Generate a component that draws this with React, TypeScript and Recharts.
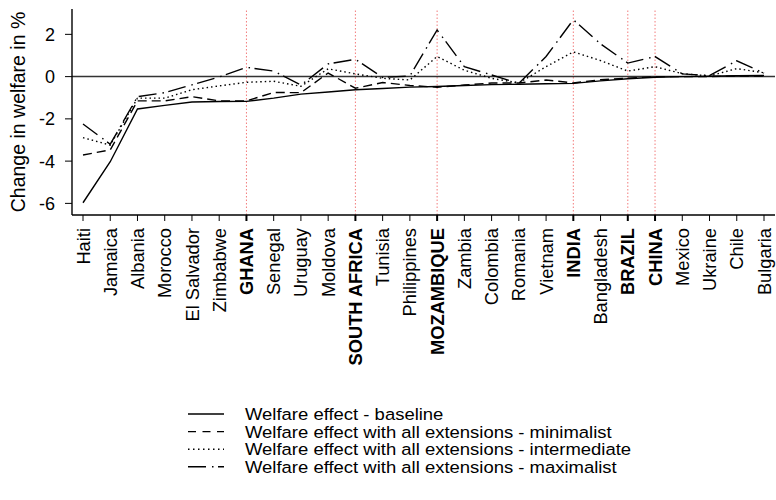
import React from 'react';
import { LineChart, Line, XAxis, YAxis, ReferenceLine, Legend } from 'recharts';

const countries = [
  "Haiti", "Jamaica", "Albania", "Morocco", "El Salvador", "Zimbabwe", "GHANA", "Senegal",
  "Uruguay", "Moldova", "SOUTH AFRICA", "Tunisia", "Philippines", "MOZAMBIQUE", "Zambia",
  "Colombia", "Romania", "Vietnam", "INDIA", "Bangladesh", "BRAZIL", "CHINA", "Mexico",
  "Ukraine", "Chile", "Bulgaria",
];

const baseline = [
  -5.97, -4.03, -1.53, -1.36, -1.2, -1.18, -1.17, -1.02, -0.83, -0.73, -0.62, -0.56, -0.5,
  -0.47, -0.42, -0.38, -0.36, -0.34, -0.32, -0.2, -0.1, -0.03, 0.0, 0.02, 0.04, 0.05,
];
const minimalist = [
  -3.71, -3.47, -1.15, -1.15, -0.95, -1.15, -1.15, -0.75, -0.76, 0.17, -0.55, -0.28, -0.42,
  -0.5, -0.4, -0.3, -0.3, -0.16, -0.3, -0.15, -0.08, 0.0, 0.0, 0.0, 0.03, 0.03,
];
const intermediate = [
  -2.89, -3.24, -1.02, -1.02, -0.62, -0.44, -0.27, -0.22, -0.46, 0.37, 0.13, -0.08, -0.16,
  0.95, 0.3, -0.08, -0.3, 0.47, 1.17, 0.76, 0.26, 0.47, 0.14, 0.03, 0.38, 0.18,
];
const maximalist = [
  -2.24, -3.2, -0.95, -0.76, -0.39, -0.02, 0.44, 0.26, -0.4, 0.6, 0.82, -0.04, 0.03,
  2.21, 0.47, 0.08, -0.32, 0.95, 2.69, 1.55, 0.64, 0.95, 0.13, 0.05, 0.75, 0.16,
];

const highlighted = ["GHANA", "SOUTH AFRICA", "MOZAMBIQUE", "INDIA", "BRAZIL", "CHINA"];
const yTicks = [-6, -4, -2, 0, 2];
const yDomain = [-6.55, 3.2];

const seriesKeys = ["baseline", "minimalist", "intermediate", "maximalist"];
const seriesNames = [
  "Welfare effect - baseline",
  "Welfare effect with all extensions - minimalist",
  "Welfare effect with all extensions - intermediate",
  "Welfare effect with all extensions - maximalist",
];
const seriesDash = [undefined, "9 5", "1.5 3", "18 6 1.5 4.5"];
const legendDash = [undefined, "8 6.5", "1.5 3.5", "18 6 1.5 4.5"];

const data = countries.map((c, i) => ({
  country: c,
  baseline: baseline[i],
  minimalist: minimalist[i],
  intermediate: intermediate[i],
  maximalist: maximalist[i],
}));

const FONT = '"Liberation Sans", Arial, Helvetica, sans-serif';
const TICK_SIZE = 6;
const TICK_MARGIN = 7;

function XTick(props: any) {
  const { x, y, payload } = props;
  const bold = highlighted.includes(payload.value);
  return (
    <g>
      <line
        x1={x}
        x2={x}
        y1={y - TICK_SIZE - TICK_MARGIN}
        y2={y - TICK_MARGIN}
        stroke="#000"
        strokeWidth={bold ? 2 : 1}
      />
      <text
        x={x}
        y={y}
        dy="0.36em"
        textAnchor="end"
        transform={`rotate(-90, ${x}, ${y})`}
        fontSize={18.3}
        fontWeight={bold ? 700 : 400}
        fill="#000"
        fontFamily={FONT}
      >
        {payload.value}
      </text>
    </g>
  );
}

function YTitle(props: any) {
  const { viewBox } = props;
  const cx = (viewBox?.x ?? 0) + 25;
  const cy = (viewBox?.y ?? 0) + (viewBox?.height ?? 0) / 2;
  return (
    <text
      x={cx}
      y={cy}
      textAnchor="middle"
      transform={`rotate(-90, ${cx}, ${cy})`}
      fontSize={19.5}
      fill="#000"
      fontFamily={FONT}
    >
      Change in welfare in %
    </text>
  );
}

function LegendContent() {
  const rowH = 17.6;
  return (
    <svg width={500} height={76} style={{ display: 'block' }}>
      {seriesNames.map((name, i) => {
        const cy = 10 + i * rowH;
        return (
          <g key={name}>
            <line
              x1={2}
              x2={38}
              y1={cy}
              y2={cy}
              stroke="#000"
              strokeWidth={1.4}
              strokeDasharray={legendDash[i]}
            />
            <g transform={`translate(59, ${cy + 6}) scale(1.1, 1)`}>
              <text x={0} y={0} fontSize={16.8} fill="#000" fontFamily={FONT}>
                {name}
              </text>
            </g>
          </g>
        );
      })}
    </svg>
  );
}

export default function App() {
  return (
    <div style={{ position: 'absolute', left: 0, top: 0, width: 776, height: 500, background: '#fff' }}>
      <LineChart
        width={776}
        height={500}
        data={data}
        margin={{ top: 9, right: 1, left: 0, bottom: 165 }}
      >
        <XAxis
          dataKey="country"
          scale="point"
          padding={{ left: 11, right: 11 }}
          interval={0}
          height={120}
          tickSize={TICK_SIZE}
          tickMargin={TICK_MARGIN}
          tickLine={false}
          tick={<XTick />}
          axisLine={{ stroke: '#000', strokeWidth: 1.4 }}
        />
        <XAxis
          xAxisId="top"
          orientation="top"
          dataKey="country"
          scale="point"
          padding={{ left: 11, right: 11 }}
          height={0}
          tick={false}
          tickLine={false}
          axisLine={{ stroke: '#000', strokeWidth: 1.4 }}
        />
        <YAxis
          type="number"
          domain={yDomain}
          allowDataOverflow
          ticks={yTicks}
          width={72}
          tickSize={7}
          tickMargin={10}
          tickLine={{ stroke: '#000', strokeWidth: 1 }}
          axisLine={{ stroke: '#000', strokeWidth: 1.4 }}
          tick={{ fontSize: 18, fill: '#000', fontFamily: FONT }}
          label={<YTitle />}
        />
        <YAxis
          yAxisId="r"
          orientation="right"
          type="number"
          domain={yDomain}
          allowDataOverflow
          width={0}
          tick={false}
          tickLine={false}
          axisLine={{ stroke: '#000', strokeWidth: 1.4 }}
        />
        {highlighted.map((c) => (
          <ReferenceLine
            key={c}
            x={c}
            stroke="#f27c7c"
            strokeWidth={1}
            strokeDasharray="1.5 2"
          />
        ))}
        <ReferenceLine y={0} stroke="#333" strokeWidth={1.5} />
        {seriesKeys.map((k, i) => (
          <Line
            key={k}
            type="linear"
            dataKey={k}
            name={seriesNames[i]}
            stroke="#000"
            strokeWidth={1.4}
            strokeDasharray={seriesDash[i]}
            dot={false}
            activeDot={false}
            isAnimationActive={false}
          />
        ))}
        <Legend
          layout="horizontal"
          verticalAlign="middle"
          align="center"
          wrapperStyle={{ top: 404, left: 186, width: 500, height: 76 }}
          content={<LegendContent />}
        />
      </LineChart>
    </div>
  );
}
